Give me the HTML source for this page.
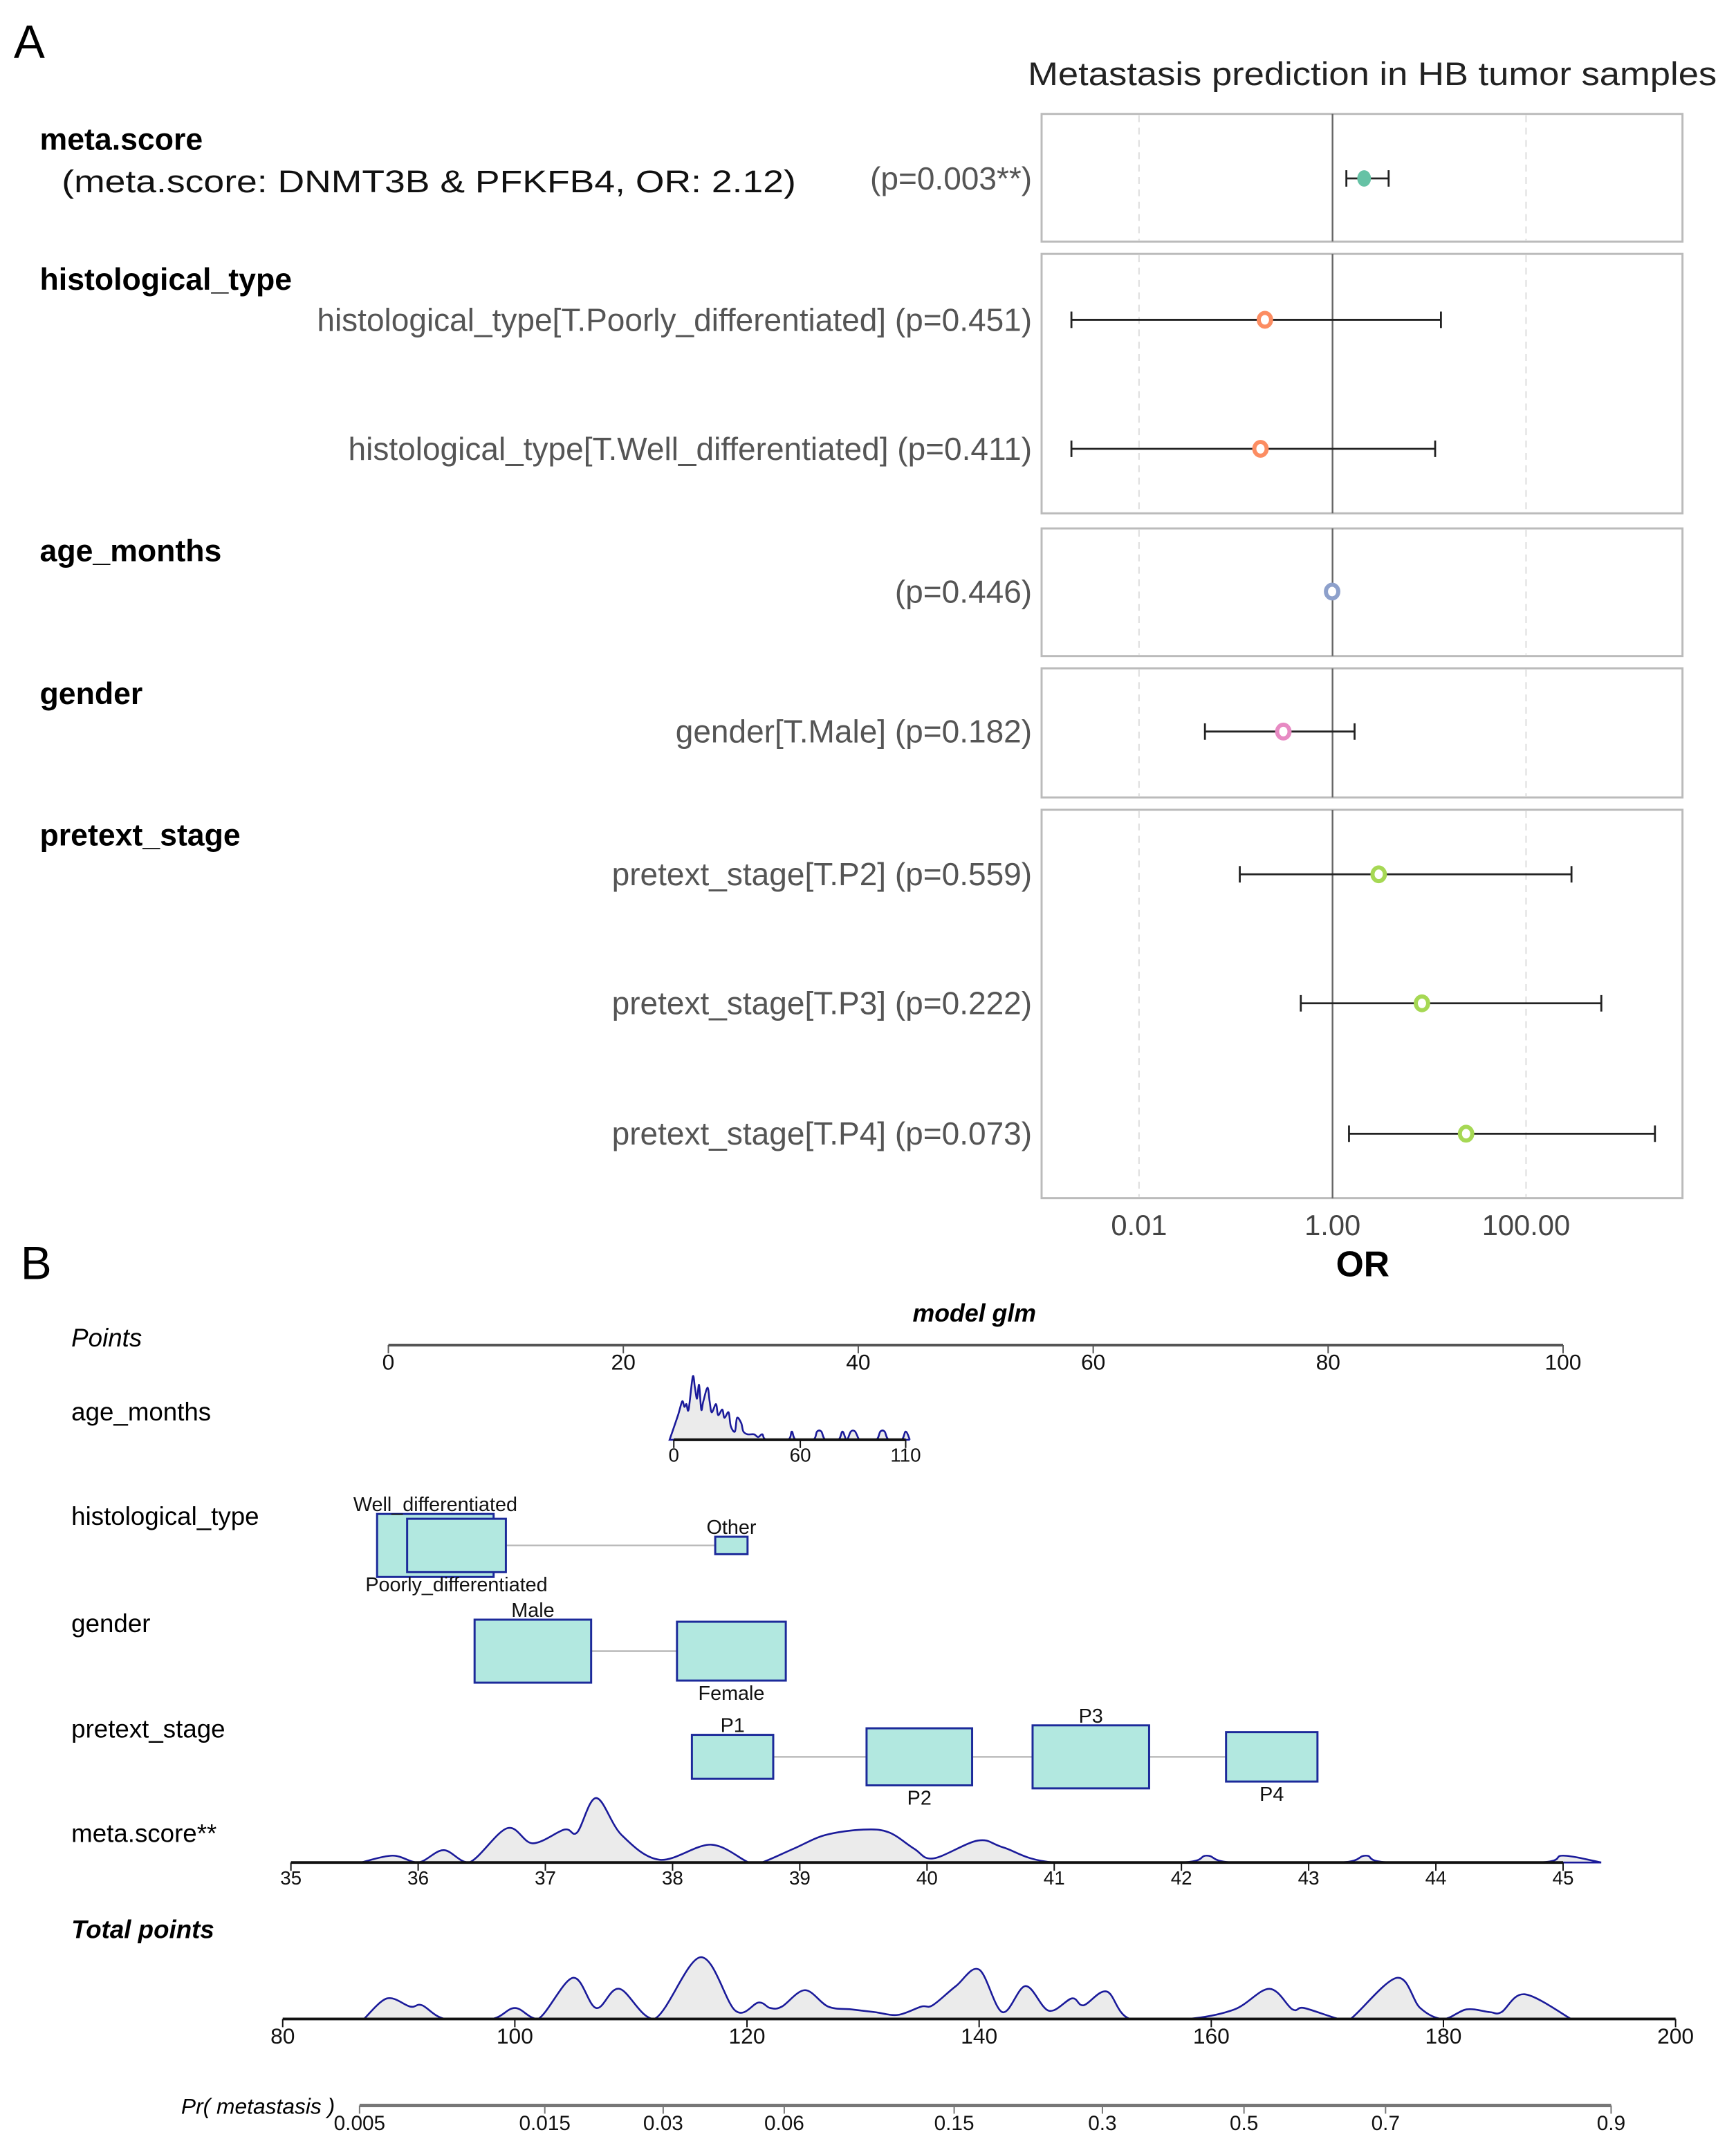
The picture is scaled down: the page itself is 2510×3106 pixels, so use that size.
<!DOCTYPE html>
<html><head><meta charset="utf-8"><style>
html,body{margin:0;padding:0;background:#fff;}
svg{display:block;font-family:"Liberation Sans",Arial,sans-serif;}
</style></head><body>
<svg id="fig" xmlns="http://www.w3.org/2000/svg" width="2510" height="3106" viewBox="0 0 1265 1565" preserveAspectRatio="none">
<rect x="0" y="0" width="1265" height="1565" fill="#fff"/>
<g id="panelA">
<text x="10" y="42" font-size="34">A</text>
<text x="749" y="62" font-size="24" fill="#222" textLength="502" lengthAdjust="spacingAndGlyphs">Metastasis prediction in HB tumor samples</text>
</g>
<g id="panelB">
<text x="15" y="932" font-size="34">B</text>
<text x="710" y="963" font-size="18" font-weight="bold" font-style="italic" text-anchor="middle">model glm</text>
</g>
</svg>
<script>
// ---------- Panel A data ----------
const groupNames = ["meta.score","histological_type","age_months","gender","pretext_stage"];
const termLabels = ["(p=0.003**)","histological_type[T.Poorly_differentiated] (p=0.451)","histological_type[T.Well_differentiated] (p=0.411)","(p=0.446)","gender[T.Male] (p=0.182)","pretext_stage[T.P2] (p=0.559)","pretext_stage[T.P3] (p=0.222)","pretext_stage[T.P4] (p=0.073)"];
const termGroup = [0,1,1,2,3,4,4,4];
const orValues = [2.12,0.2,0.18,0.99,0.31,3.0,8.4,24];
const ciLow = [1.39,0.002,0.002,null,0.048,0.11,0.47,1.48];
const ciHigh = [3.8,13.2,11.5,null,1.69,295,600,2150];
const groupColors = ["#66c2a5","#fc8d62","#8da0cb","#e78ac3","#a6d854"];
const orTicks = [0.01,1,100];
const orTickLabels = ["0.01","1.00","100.00"];

// ---------- Panel B data ----------
const pointTicks = [0,20,40,60,80,100];
const ageTicks = [0,60,110];
const ageDensX = [-2,2,4,5,6,7,9,10,11,12,13,14,16,17,18,20,21,23,24,26,27,29,30,32,33,35,38,40,42,44,54,56,58,66,68,70,72,78,80,82,84,86,88,90,96,98,100,102,108,110,112];
const ageDensY = [0,18,28,24,26,22,46,38,30,40,22,28,38,28,20,26,18,22,16,20,10,6,16,12,6,4,4,2,4,0,0,6,0,0,6,6,0,0,6,0,6,6,0,0,0,6,6,0,0,6,0];
const histCats = ["Well_differentiated","Poorly_differentiated","Other"];
const histPoints = [4.0,5.8,29.2];
const histFreq = [39,28,3];
const genderCats = ["Male","Female"];
const genderPoints = [12.3,29.2];
const genderFreq = [39,34];
const stageCats = ["P1","P2","P3","P4"];
const stagePoints = [29.3,45.2,59.8,75.2];
const stageFreq = [19,32,39,24];
const metaTicks = [35,36,37,38,39,40,41,42,43,44,45];
const metaDensX = [35.55,35.8,36.0,36.2,36.4,36.7,36.9,37.15,37.25,37.4,37.6,37.9,38.3,38.6,38.7,38.95,39.2,39.5,39.7,39.9,40.05,40.4,40.6,41.0,42.0,42.2,42.4,43.25,43.45,43.65,44.8,45.0,45.3];
const metaDensY = [0,5,0,9,0,25,14,24,22,47,20,2,13,0,0,10,20,24,22,10,3,16,11,0,0,5,0,0,5,0,0,5,0];
const totalTicks = [80,100,120,140,160,180,200];
const totalDensX = [87,89,91,92,94,98,100,102,105,107,109,112,116,119,121,122,123,125,127,129,131,133,135,136,138,140,142,144,146,148,149,151,153,158,162,165,167,168,171,172,176,178,180,182,184,185,187,191];
const totalDensY = [0,15,9,10,0,0,8,0,30,8,22,0,45,6,12,8,9,21,9,7,5,3,9,10,24,36,5,24,6,15,10,20,0,0,7,22,7,8,0,0,30,8,0,7,5,5,18,0];
const probTicks = [0.005,0.015,0.03,0.06,0.15,0.3,0.5,0.7,0.9];

const NS="http://www.w3.org/2000/svg";
const A=document.getElementById('panelA'), B=document.getElementById('panelB');
function mk(tag,attrs,parent,txt){const e=document.createElementNS(NS,tag);for(const k in attrs)e.setAttribute(k,attrs[k]);if(txt!==undefined)e.textContent=txt;parent.appendChild(e);return e;}

// ---- Panel A ----
const fx = v => 971 + Math.log10(v)*70.5;
const panels = [[83,176],[185,374],[385,478],[487,581],[590,873]];
const rowY = [130,233,327,431,533,637,731,826];
const groupY = [109,211,409,513,616];
groupNames.forEach((g,i)=>{
  const [y0,y1]=panels[i];
  const r=mk('rect',{x:759,y:y0,width:467,height:y1-y0,fill:'#fff',stroke:'#bbb','stroke-width':1.5},A);
  
  
  orTicks.forEach((t,k)=>{ if(k!==1){const l=mk('line',{x1:fx(t),x2:fx(t),y1:y0+1,y2:y1-1,stroke:'#ddd','stroke-dasharray':'5,4','stroke-width':1},A);
    
    }});
  const ref=mk('line',{x1:fx(1),x2:fx(1),y1:y0,y2:y1,stroke:'#666','stroke-width':1.2},A);
  
  
  const t=mk('text',{x:29,y:groupY[i],'font-size':22.5,'font-weight':'bold'},A,g);
  
  
});
const sub=mk('text',{x:45,y:140,'font-size':23,fill:'#111',textLength:535,lengthAdjust:'spacingAndGlyphs'},A,'(meta.score: DNMT3B & PFKFB4,  OR: 2.12)');


termLabels.forEach((lab,i)=>{
  const y=rowY[i];
  const t=mk('text',{x:752,y:y+8,'font-size':23.2,fill:'#555','text-anchor':'end'},A,lab);
  
  
  if(ciLow[i]!==null){
    const g=mk('g',{stroke:'#222','stroke-width':1.4},A);
    
    
    mk('line',{x1:fx(ciLow[i]),x2:fx(ciHigh[i]),y1:y,y2:y},g);
    mk('line',{x1:fx(ciLow[i]),x2:fx(ciLow[i]),y1:y-6,y2:y+6},g);
    mk('line',{x1:fx(ciHigh[i]),x2:fx(ciHigh[i]),y1:y-6,y2:y+6},g);
  }
  const c=groupColors[termGroup[i]];
  const p = i===0 ? mk('ellipse',{cx:fx(orValues[i]),cy:y,rx:5,ry:6,fill:c},A)
                  : mk('ellipse',{cx:fx(orValues[i]),cy:y,rx:4.5,ry:5,fill:'#fff',stroke:c,'stroke-width':3},A);
  
  
});
orTicks.forEach((t,k)=>{
  const e=mk('text',{x:fx(t),y:900,'font-size':21,fill:'#444','text-anchor':'middle'},A,orTickLabels[k]);
  
  
});
const orT=mk('text',{x:993,y:930,'font-size':26,'font-weight':'bold','text-anchor':'middle'},A,'OR');



// ---- Panel B ----
const px = v => 283 + v*8.56;
function rowLabel(txt,y,style){const t=mk('text',Object.assign({x:52,y:y,'font-size':18.5},style||{}),B,txt);
  
  }
rowLabel('Points',981,{'font-style':'italic'});
rowLabel('age_months',1035);
rowLabel('histological_type',1111);
rowLabel('gender',1189);
rowLabel('pretext_stage',1266);
rowLabel('meta.score**',1342);
rowLabel('Total points',1412,{'font-style':'italic','font-weight':'bold'});
const prl=mk('text',{x:132,y:1540,'font-size':16,'font-style':'italic'},B,'Pr( metastasis )');



function axis(scale,ticks,y,x0,x1,labels,fs,ly,color,w,name){
  const g=mk('g',{},B);
  
  
  mk('line',{x1:x0,x2:x1,y1:y,y2:y,stroke:color,'stroke-width':w},g);
  ticks.forEach((t,k)=>{mk('line',{x1:scale(t),x2:scale(t),y1:y,y2:y+6,stroke:color,'stroke-width':1},g);
    mk('text',{x:scale(t),y:ly,'font-size':fs,'text-anchor':'middle',fill:'#111'},g,labels?labels[k]:String(t));});
}
axis(px,pointTicks,980,px(0),px(100),null,16,998,'#555',2,'points-axis');

function density(xs,ys,scale,base,name){
  const P=xs.map((x,i)=>[scale(x),base-ys[i]]);
  let d='M'+P[0][0]+','+base+' L'+P[0][0].toFixed(1)+','+P[0][1].toFixed(1);
  for(let i=0;i<P.length-1;i++){
    const p0=P[Math.max(0,i-1)],p1=P[i],p2=P[i+1],p3=P[Math.min(P.length-1,i+2)];
    let c1y=p1[1]+(p2[1]-p0[1])/6, c2y=p2[1]-(p3[1]-p1[1])/6;
    c1y=Math.min(c1y,base); c2y=Math.min(c2y,base);
    d+=' C'+(p1[0]+(p2[0]-p0[0])/6).toFixed(1)+','+c1y.toFixed(1)+' '+(p2[0]-(p3[0]-p1[0])/6).toFixed(1)+','+c2y.toFixed(1)+' '+p2[0].toFixed(1)+','+p2[1].toFixed(1);
  }
  d+=' L'+P[P.length-1][0]+','+base+' Z';
  const p=mk('path',{d:d,fill:'#ebebeb',stroke:'#1a1a9a','stroke-width':1.3},B);
  
  
}
const ax = v => 491 + v*1.536;
density(ageDensX,ageDensY,ax,1049,'age-density');
axis(ax,ageTicks,1049,ax(0),ax(110),null,14,1065,'#111',2,'age-axis');

function boxes(cats,pts,freq,cy,k,labelPos,name){
  const line=mk('line',{x1:px(pts[0]),x2:px(pts[pts.length-1]),y1:cy,y2:cy,stroke:'#bbb','stroke-width':1.3},B);
  
  
  cats.forEach((c,i)=>{
    const s=Math.sqrt(freq[i]);const w=s*k*1.85,h=s*k;
    const r=mk('rect',{x:px(pts[i])-w/2,y:cy-h/2,width:w,height:h,fill:'#b2e8e0',stroke:'#1c2a9a','stroke-width':1.5},B);
    
    
    const ly = labelPos[i]>0 ? cy+h/2+14 : cy-h/2-2;
    const t=mk('text',{x:px(pts[i]),y:ly,'font-size':14.5,'text-anchor':'middle',fill:'#111'},B,c);
    
    
  });
}
boxes(histCats,histPoints,histFreq,1126,7.35,[-1,1,-1],'histological');
boxes(genderCats,genderPoints,genderFreq,1203,7.35,[-1,1],'gender');
boxes(stageCats,stagePoints,stageFreq,1280,7.35,[-1,1,-1,1],'stage');

const mx = v => 212 + (v-35)*92.7;
density(metaDensX,metaDensY,mx,1357,'meta-score-density');
axis(mx,metaTicks,1357,mx(35),mx(45),null,14,1373,'#111',2,'meta-score-axis');

const tx = v => 206 + (v-80)*8.458;
density(totalDensX,totalDensY,tx,1471,'total-points-density');
axis(tx,totalTicks,1471,tx(80),tx(200),null,16,1489,'#111',2,'total-points-axis');

const logit = p => Math.log(p/(1-p));
const prx = p => 262 + (logit(p)-logit(0.005))/(logit(0.9)-logit(0.005))*912;
axis(prx,probTicks,1534,prx(0.005),prx(0.9),probTicks.map(String),15,1552,'#777',2.5,'probability-axis');
</script>
</body></html>
